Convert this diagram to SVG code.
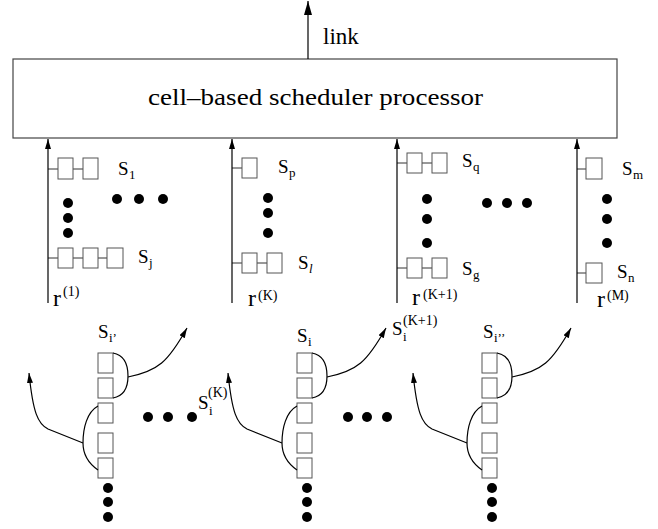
<svg xmlns="http://www.w3.org/2000/svg" width="658" height="529" viewBox="0 0 658 529" font-family="'Liberation Serif', 'Times New Roman', serif">
<defs>
<style>
text{font-family:'Liberation Serif','Times New Roman',serif;fill:#000}
.S{font-size:19px}
.sub{font-size:13px}
.r{font-size:24px}
.sup{font-size:14px}
.q{fill:#fff;stroke:#555;stroke-width:1}
.ln{stroke:#000;stroke-width:1.2;fill:none}
.tie{stroke:#333;stroke-width:1;fill:none}
.dot{fill:#000}
</style>
<marker id="big" viewBox="0 0 14 8" markerWidth="14" markerHeight="8" refX="14" refY="4" orient="auto" markerUnits="userSpaceOnUse"><path d="M0,0 L14,4 L0,8 z" fill="#000"/></marker>
<marker id="ah" viewBox="0 0 10 6" markerWidth="10" markerHeight="6" refX="10" refY="3" orient="auto" markerUnits="userSpaceOnUse"><path d="M0,0 L10,3 L0,6 z" fill="#000"/></marker>
<g id="col">
<rect class="q" x="98" y="353" width="15" height="20"/>
<rect class="q" x="98" y="378" width="15" height="20"/>
<rect class="q" x="98" y="403" width="15" height="20"/>
<rect class="q" x="98" y="433" width="15" height="20"/>
<rect class="q" x="98" y="458" width="15" height="20"/>
<circle class="dot" cx="108" cy="488" r="5"/>
<circle class="dot" cx="108" cy="502" r="5"/>
<circle class="dot" cx="108" cy="517" r="5"/>
</g>
<g id="arcs">
<path class="ln" d="M113,353 C124,355 128,365 128,376 C128,387 124,396 113,398"/>
<path class="ln" marker-end="url(#ah)" d="M128,377 C158,371 168,362 187,328"/>
<path class="ln" d="M98,406 C87,412 83,428 83,443 C83,455 88,463 98,470"/>
<path class="ln" marker-end="url(#ah)" d="M83,443 L48,429 C38,424 33,413 29,373"/>
</g>
</defs>

<g id="scheduler">
<rect x="13" y="59" width="604" height="79" fill="#fff" stroke="#444" stroke-width="1.2"/>
<text x="148" y="105" font-size="24" textLength="335" lengthAdjust="spacingAndGlyphs">cell–based scheduler processor</text>
</g>
<text x="323" y="44" font-size="23">link</text>

<g id="queue-1">
<path class="tie" d="M48,169 H58 M73,169 H83 M48,258 H58 M73,258 H83 M98,258 H107"/>
<rect class="q" x="58" y="158" width="15" height="21"/>
<rect class="q" x="83" y="158" width="15" height="21"/>
<rect class="q" x="58" y="248" width="15" height="20"/>
<rect class="q" x="83" y="248" width="15" height="20"/>
<rect class="q" x="107" y="248" width="16" height="20"/>
<text class="S" x="118" y="175">S</text><text class="sub" x="129" y="179">1</text>
<text class="S" x="138" y="263">S</text><text class="sub" x="149" y="267">j</text>
<circle class="dot" cx="68" cy="203" r="5"/>
<circle class="dot" cx="68" cy="218" r="5"/>
<circle class="dot" cx="68" cy="233" r="5"/>
<text class="r" x="53" y="306">r</text><text class="sup" x="63" y="296">(1)</text>
</g>

<g id="hdots-top">
<circle class="dot" cx="117" cy="199" r="5"/>
<circle class="dot" cx="139" cy="199" r="5"/>
<circle class="dot" cx="163" cy="199" r="5"/>
<circle class="dot" cx="487" cy="203" r="5"/>
<circle class="dot" cx="507" cy="203" r="5"/>
<circle class="dot" cx="527" cy="203" r="5"/>
</g>

<g id="queue-K">
<path class="tie" d="M232,168 H242 M232,263 H242 M257,263 H267"/>
<rect class="q" x="242" y="158" width="15" height="20"/>
<rect class="q" x="242" y="253" width="15" height="20"/>
<rect class="q" x="267" y="253" width="15" height="20"/>
<text class="S" x="278" y="173">S</text><text class="sub" x="289" y="177">p</text>
<text class="S" x="298" y="269">S</text><text class="sub" x="309" y="273" font-style="italic">l</text>
<circle class="dot" cx="268" cy="198" r="5"/>
<circle class="dot" cx="268" cy="213" r="5"/>
<circle class="dot" cx="268" cy="233" r="5"/>
<text class="r" x="248" y="306">r</text><text class="sup" x="258" y="300">(K)</text>
</g>

<g id="queue-K1">
<path class="tie" d="M397,163 H407 M422,163 H432 M397,268 H407 M422,268 H432"/>
<rect class="q" x="407" y="153" width="15" height="20"/>
<rect class="q" x="432" y="153" width="15" height="20"/>
<rect class="q" x="407" y="258" width="15" height="20"/>
<rect class="q" x="432" y="258" width="15" height="20"/>
<text class="S" x="462" y="167">S</text><text class="sub" x="473" y="171">q</text>
<text class="S" x="462" y="275">S</text><text class="sub" x="473" y="279">g</text>
<circle class="dot" cx="427" cy="199" r="5"/>
<circle class="dot" cx="427" cy="219" r="5"/>
<circle class="dot" cx="427" cy="243" r="5"/>
<text class="r" x="412" y="305">r</text><text class="sup" x="423" y="299">(K+1)</text>
</g>

<g id="queue-M">
<path class="tie" d="M577,169 H586 M577,273 H586"/>
<rect class="q" x="586" y="158" width="16" height="21"/>
<rect class="q" x="586" y="263" width="16" height="20"/>
<text class="S" x="622" y="175">S</text><text class="sub" x="633" y="179">m</text>
<text class="S" x="617" y="278">S</text><text class="sub" x="628" y="282">n</text>
<circle class="dot" cx="607" cy="199" r="5"/>
<circle class="dot" cx="607" cy="219" r="5"/>
<circle class="dot" cx="607" cy="243" r="5"/>
<text class="r" x="597" y="307">r</text><text class="sup" x="607" y="300">(M)</text>
</g>

<g id="flow-1">
<use href="#col"/>
<text class="S" x="98" y="338">S</text><text class="sub" x="109" y="342">i’</text>
</g>
<g id="flow-2">
<use href="#col" transform="translate(199,0)"/>
<text class="S" x="297" y="342">S</text><text class="sub" x="308" y="346">i</text>
</g>
<g id="flow-3">
<use href="#col" transform="translate(384,0)"/>
<text class="S" x="483" y="338">S</text><text class="sub" x="494" y="342">i’’</text>
</g>

<g id="hdots-bottom">
<circle class="dot" cx="148" cy="417" r="5"/>
<circle class="dot" cx="168" cy="417" r="5"/>
<circle class="dot" cx="192" cy="417" r="5"/>
<circle class="dot" cx="348" cy="417" r="5"/>
<circle class="dot" cx="367" cy="417" r="5"/>
<circle class="dot" cx="387" cy="417" r="5"/>
</g>

<g id="label-SiK">
<text class="S" x="198" y="409">S</text><text class="sub" x="209" y="415">i</text><text class="sup" x="208" y="397">(K)</text>
</g>
<g id="label-SiK1">
<text class="S" x="392" y="335">S</text><text class="sub" x="403" y="341">i</text><text class="sup" x="403" y="325">(K+1)</text>
</g>

<g id="connectors">
<line class="ln" x1="308" y1="59" x2="308" y2="1" marker-end="url(#big)"/>
<line class="ln" x1="48" y1="303" x2="48" y2="139" marker-end="url(#ah)"/>
<line class="ln" x1="232" y1="303" x2="232" y2="139" marker-end="url(#ah)"/>
<line class="ln" x1="397" y1="303" x2="397" y2="139" marker-end="url(#ah)"/>
<line class="ln" x1="577" y1="303" x2="577" y2="139" marker-end="url(#ah)"/>
<use href="#arcs"/>
<use href="#arcs" transform="translate(199,0)"/>
<use href="#arcs" transform="translate(384,0)"/>
</g>
</svg>
